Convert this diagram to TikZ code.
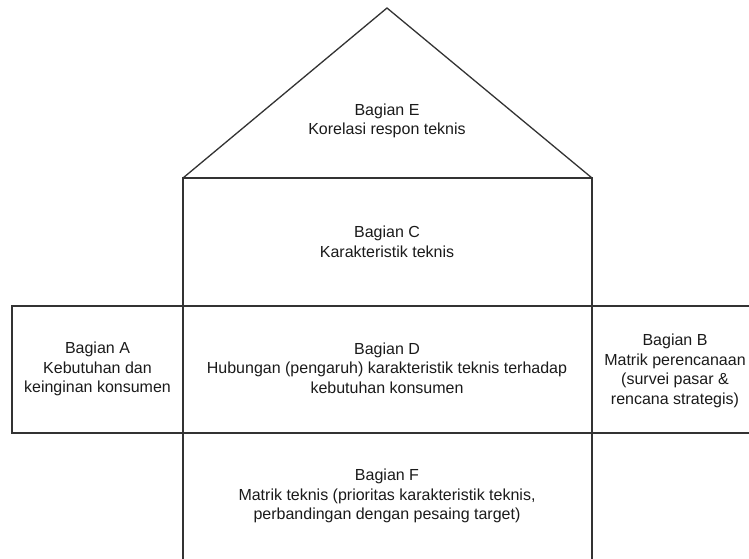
\documentclass[tikz,border=0pt]{standalone}
\usepackage{fontspec}
\setmainfont{Liberation Sans}
\definecolor{linec}{HTML}{333333}
\definecolor{textc}{HTML}{1A1A1A}
\tikzset{
  part/.style={draw=linec, line width=1.3pt},
  lbl/.style={align=center, text=textc, inner sep=0pt,
    font=\fontsize{16}{19.5}\selectfont}
}
\begin{document}
\begin{tikzpicture}[x=1pt, y=-1pt]
\useasboundingbox (0,0) rectangle (749,558);
\clip (0,0) rectangle (749,558);
% shapes
\draw[part, line join=miter] (183,178) -- (387,8) -- (592,178);
\draw[part] (183,178) rectangle (592,306);
\draw[part] (12,306) rectangle (183,433);
\draw[part] (183,306) rectangle (592,433);
\draw[part] (592,306) rectangle (762,433);
\draw[part] (183,433) rectangle (592,566);
% labels
\node[lbl] (e) at (387,121) {Bagian E\\Korelasi respon teknis};
\node[lbl] (c) at (387,242) {Bagian C\\Karakteristik teknis};
\node[lbl] (a) at (97.5,369) {Bagian A\\Kebutuhan dan\\keinginan konsumen};
\node[lbl] (d) at (387,368) {Bagian D\\Hubungan (pengaruh) karakteristik teknis terhadap\\kebutuhan konsumen};
\node[lbl] (b) at (675,371) {Bagian B\\Matrik perencanaan\\(survei pasar \&\\rencana strategis)};
\node[lbl] (f) at (387,496) {Bagian F\\Matrik teknis (prioritas karakteristik teknis,\\perbandingan dengan pesaing target)};
\end{tikzpicture}
\end{document}
